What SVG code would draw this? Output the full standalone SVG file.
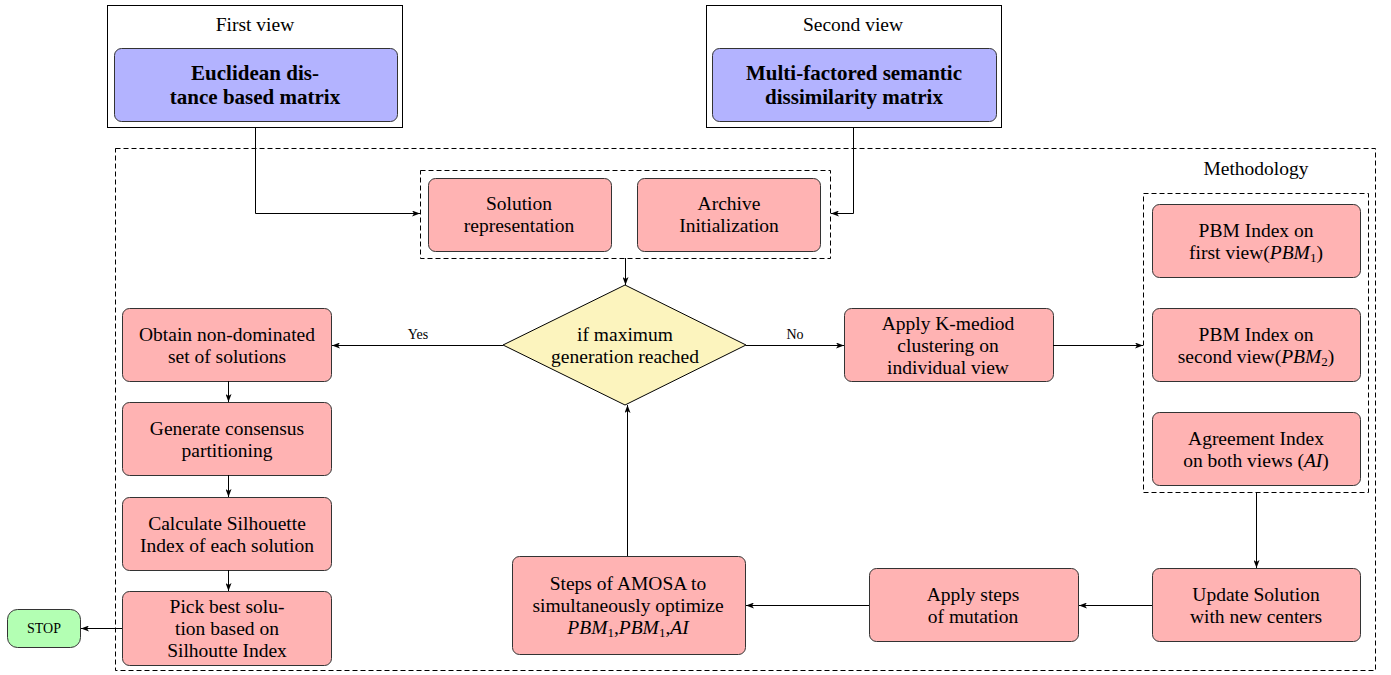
<svg xmlns="http://www.w3.org/2000/svg" width="1391" height="675" viewBox="0 0 1391 675">
<defs>
<style>
text{font-family:"Liberation Serif","Times New Roman",serif;fill:#000;text-anchor:middle}
.t{font-size:19.5px}
.b{font-size:21px;font-weight:bold}
.s{font-size:14px}
.red{fill:#ffb3b3;stroke:#333;stroke-width:1}
.blue{fill:#b3b3ff;stroke:#333;stroke-width:1}
.frame{fill:#fff;stroke:#000;stroke-width:1}
.dash{fill:none;stroke:#000;stroke-width:1;stroke-dasharray:5,3}
.ln{fill:none;stroke:#000;stroke-width:1;marker-end:url(#ah)}
.m{font-style:italic}
</style>
<marker id="ah" viewBox="0 0 8 6" refX="8" refY="3" markerWidth="8" markerHeight="6" markerUnits="userSpaceOnUse" orient="auto">
<path d="M0,0 L8,3 L0,6 L2,3 z" fill="#000"/>
</marker>
</defs>
<rect width="1391" height="675" fill="#fff"/>

<g id="methodology">
<rect class="dash" x="115.5" y="148.5" width="1260" height="522"/>
<text class="t" x="1256" y="175">Methodology</text>
</g>

<g id="first-view">
<rect class="frame" x="107.5" y="5.5" width="295" height="122"/>
<text class="t" x="255" y="31">First view</text>
<rect class="blue" x="114.5" y="48.5" width="283" height="73" rx="7"/>
<text class="b"><tspan x="255" y="80">Euclidean dis-</tspan><tspan x="255" y="103.5">tance based matrix</tspan></text>
</g>

<g id="second-view">
<rect class="frame" x="706.5" y="5.5" width="295" height="122"/>
<text class="t" x="853" y="31">Second view</text>
<rect class="blue" x="712.5" y="48.5" width="284" height="73" rx="7"/>
<text class="b"><tspan x="854" y="80">Multi-factored semantic</tspan><tspan x="854" y="103.5">dissimilarity matrix</tspan></text>
</g>

<g id="init-group">
<rect class="dash" x="420.5" y="170.5" width="410" height="88"/>
</g>
<g id="solution-representation">
<rect class="red" x="428.5" y="178.5" width="183" height="73" rx="7"/>
<text class="t"><tspan x="519" y="210">Solution</tspan><tspan x="519" y="232">representation</tspan></text>
</g>
<g id="archive-initialization">
<rect class="red" x="637.5" y="178.5" width="183" height="73" rx="7"/>
<text class="t"><tspan x="729" y="210">Archive</tspan><tspan x="729" y="232">Initialization</tspan></text>
</g>

<g id="decision">
<polygon points="625,285 746,345 625,405 503,345" fill="#fcf4be" stroke="#000" stroke-width="1"/>
<text class="t"><tspan x="625" y="341">if maximum</tspan><tspan x="625" y="363">generation reached</tspan></text>
</g>

<g id="obtain-non-dominated">
<rect class="red" x="122.5" y="308.5" width="209" height="73" rx="7"/>
<text class="t"><tspan x="227" y="341">Obtain non-dominated</tspan><tspan x="227" y="363">set of solutions</tspan></text>
</g>
<g id="generate-consensus">
<rect class="red" x="122.5" y="402.5" width="209" height="73" rx="7"/>
<text class="t"><tspan x="227" y="435">Generate consensus</tspan><tspan x="227" y="457">partitioning</tspan></text>
</g>
<g id="calculate-silhouette">
<rect class="red" x="122.5" y="497.5" width="209" height="73" rx="7"/>
<text class="t"><tspan x="227" y="530">Calculate Silhouette</tspan><tspan x="227" y="552">Index of each solution</tspan></text>
</g>
<g id="pick-best">
<rect class="red" x="122.5" y="591.5" width="209" height="74" rx="7"/>
<text class="t"><tspan x="227" y="613">Pick best solu-</tspan><tspan x="227" y="635">tion based on</tspan><tspan x="227" y="657">Silhoutte Index</tspan></text>
</g>
<g id="stop">
<rect x="7.5" y="609.5" width="73" height="38" rx="10" fill="#b3ffb3" stroke="#333" stroke-width="1"/>
<text x="44" y="633" style="font-size:14px">STOP</text>
</g>

<g id="apply-kmediod">
<rect class="red" x="844.5" y="308.5" width="209" height="73" rx="7"/>
<text class="t"><tspan x="948" y="330">Apply K-mediod</tspan><tspan x="948" y="352">clustering on</tspan><tspan x="948" y="374">individual view</tspan></text>
</g>

<g id="index-group">
<rect class="dash" x="1143.5" y="193.5" width="225" height="299"/>
</g>
<g id="pbm1">
<rect class="red" x="1152.5" y="204.5" width="208" height="73" rx="7"/>
<text class="t"><tspan x="1256" y="237">PBM Index on</tspan><tspan x="1256" y="259">first view(<tspan class="m">PBM</tspan><tspan font-size="13" dy="3">1</tspan><tspan dy="-3">)</tspan></tspan></text>
</g>
<g id="pbm2">
<rect class="red" x="1152.5" y="308.5" width="208" height="73" rx="7"/>
<text class="t"><tspan x="1256" y="341">PBM Index on</tspan><tspan x="1256" y="363">second view(<tspan class="m">PBM</tspan><tspan font-size="13" dy="3">2</tspan><tspan dy="-3">)</tspan></tspan></text>
</g>
<g id="agreement-index">
<rect class="red" x="1152.5" y="412.5" width="208" height="73" rx="7"/>
<text class="t"><tspan x="1256" y="445">Agreement Index</tspan><tspan x="1256" y="467">on both views (<tspan class="m">AI</tspan>)</tspan></text>
</g>

<g id="update-solution">
<rect class="red" x="1152.5" y="568.5" width="208" height="73" rx="7"/>
<text class="t"><tspan x="1256" y="601">Update Solution</tspan><tspan x="1256" y="623">with new centers</tspan></text>
</g>
<g id="apply-mutation">
<rect class="red" x="869.5" y="568.5" width="209" height="73" rx="7"/>
<text class="t"><tspan x="973" y="601">Apply steps</tspan><tspan x="973" y="623">of mutation</tspan></text>
</g>
<g id="amosa">
<rect class="red" x="512.5" y="556.5" width="233" height="98" rx="7"/>
<text class="t"><tspan x="628" y="590">Steps of AMOSA to</tspan><tspan x="628" y="612">simultaneously optimize</tspan><tspan x="628" y="634"><tspan class="m">PBM</tspan><tspan font-size="13" dy="3">1</tspan><tspan dy="-3">,</tspan><tspan class="m">PBM</tspan><tspan font-size="13" dy="3">1</tspan><tspan dy="-3">,</tspan><tspan class="m">AI</tspan></tspan></text>
</g>

<g id="connectors">
<polyline class="ln" points="255.5,127 255.5,213.5 420,213.5"/>
<polyline class="ln" points="853.5,127 853.5,213.5 831,213.5"/>
<line class="ln" x1="625.5" y1="258" x2="625.5" y2="285"/>
<line class="ln" x1="503" y1="345.5" x2="332" y2="345.5"/>
<text class="s" x="418" y="339">Yes</text>
<line class="ln" x1="746" y1="345.5" x2="844" y2="345.5"/>
<text class="s" x="795" y="339">No</text>
<line class="ln" x1="228.5" y1="381" x2="228.5" y2="402"/>
<line class="ln" x1="228.5" y1="475" x2="228.5" y2="497"/>
<line class="ln" x1="228.5" y1="570" x2="228.5" y2="591"/>
<line class="ln" x1="122" y1="628.5" x2="81" y2="628.5"/>
<line class="ln" x1="1053" y1="345.5" x2="1143" y2="345.5"/>
<line class="ln" x1="1256.5" y1="492" x2="1256.5" y2="568"/>
<line class="ln" x1="1152" y1="605.5" x2="1079" y2="605.5"/>
<line class="ln" x1="869" y1="605.5" x2="746" y2="605.5"/>
<line class="ln" x1="627.5" y1="556" x2="627.5" y2="405"/>
</g>
</svg>
